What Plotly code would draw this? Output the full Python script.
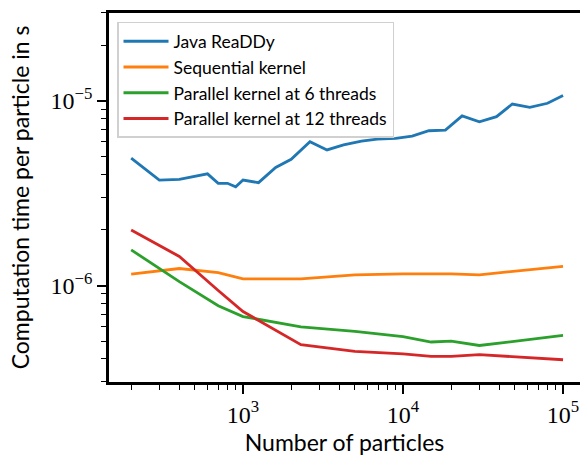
import plotly.graph_objects as go

# Data
x_java = [200, 300, 400, 600, 700, 800, 900, 1000, 1250, 1600, 2000, 2620, 3350, 4250,
          5500, 6900, 9000, 11400, 14500, 18400, 23400, 30000, 38400, 48200, 62000, 80000, 100000]
y_java = [4.9e-6, 3.73e-6, 3.76e-6, 4.03e-6, 3.58e-6, 3.58e-6, 3.43e-6, 3.73e-6, 3.61e-6,
          4.36e-6, 4.83e-6, 6.02e-6, 5.43e-6, 5.78e-6, 6.07e-6, 6.22e-6, 6.27e-6, 6.46e-6,
          6.9e-6, 6.96e-6, 8.3e-6, 7.72e-6, 8.22e-6, 9.63e-6, 9.24e-6, 9.72e-6, 1.07e-5]

x_kernel = [200, 400, 700, 1000, 2300, 5000, 10000, 15000, 20000, 30000, 100000]
y_seq = [1.153e-6, 1.236e-6, 1.175e-6, 1.087e-6, 1.087e-6, 1.143e-6, 1.157e-6, 1.157e-6,
         1.157e-6, 1.143e-6, 1.27e-6]
y_par6 = [1.56e-6, 1.05e-6, 7.77e-7, 6.79e-7, 5.96e-7, 5.64e-7, 5.29e-7, 4.94e-7,
          4.99e-7, 4.73e-7, 5.36e-7]
y_par12 = [2.0e-6, 1.436e-6, 9.4e-7, 7.23e-7, 4.78e-7, 4.4e-7, 4.26e-7, 4.13e-7,
           4.13e-7, 4.22e-7, 3.96e-7]

series_names = ["Java ReaDDy", "Sequential kernel", "Parallel kernel at 6 threads",
                "Parallel kernel at 12 threads"]
colors = ["#1f77b4", "#ff7f0e", "#2ca02c", "#d62728"]

x_ticks = [1e3, 1e4, 1e5]
x_ticktext = ["10<sup>3</sup>", "10<sup>4</sup>", "10<sup>5</sup>"]
y_ticks = [1e-6, 1e-5]
y_ticktext = ["10<sup>\u22126</sup>", "10<sup>\u22125</sup>"]

x_minor = [m * 10 ** e for e in (2, 3, 4) for m in range(2, 10)]
y_minor = [m * 10 ** e for e in (-7, -6, -5) for m in range(2, 10)]

fig = go.Figure()
data = [(x_java, y_java), (x_kernel, y_seq), (x_kernel, y_par6), (x_kernel, y_par12)]
for (xs, ys), name, c in zip(data, series_names, colors):
    fig.add_trace(go.Scatter(x=xs, y=ys, mode="lines", name=name, legendgroup=name,
                             line=dict(color=c, width=2.8)))

label_font = dict(family="Liberation Serif", size=24, color="black")
title_font = dict(family="Lato", size=23, color="black")

fig.update_layout(
    width=580, height=456,
    margin=dict(l=109, r=0, t=13, b=74),
    plot_bgcolor="white", paper_bgcolor="white",
    showlegend=True,
    legend=dict(x=0.017, y=0.976, xanchor="left", yanchor="top",
                bgcolor="rgba(255,255,255,0.85)", bordercolor="#d0d0d0", borderwidth=1.5,
                font=dict(family="Lato", size=17.5, color="black"),
                tracegroupgap=0, itemwidth=45),
    xaxis=dict(type="log", range=[2.1625, 5.106], showgrid=False, zeroline=False,
               showline=True, linecolor="black", linewidth=2.5, mirror=True,
               ticks="outside", ticklen=9, tickwidth=1.8, tickcolor="black",
               tickmode="array", tickvals=x_ticks, ticktext=x_ticktext,
               tickfont=label_font,
               minor=dict(ticks="outside", ticklen=5, tickwidth=1.3, tickcolor="black",
                          tickmode="array", tickvals=x_minor, showgrid=False),
               title=dict(text="Number of particles", font=title_font, standoff=7)),
    yaxis=dict(type="log", range=[-6.523, -4.523], showgrid=False, zeroline=False,
               showline=True, linecolor="black", linewidth=2.5, mirror=False,
               ticks="outside", ticklen=9, tickwidth=1.8, tickcolor="black",
               tickmode="array", tickvals=y_ticks, ticktext=y_ticktext,
               tickfont=label_font,
               minor=dict(ticks="outside", ticklen=5, tickwidth=1.3, tickcolor="black",
                          tickmode="array", tickvals=y_minor, showgrid=False),
               title=dict(text="Computation time per particle in s", font=title_font,
                          standoff=15)),
)

fig.write_html("out.html")
